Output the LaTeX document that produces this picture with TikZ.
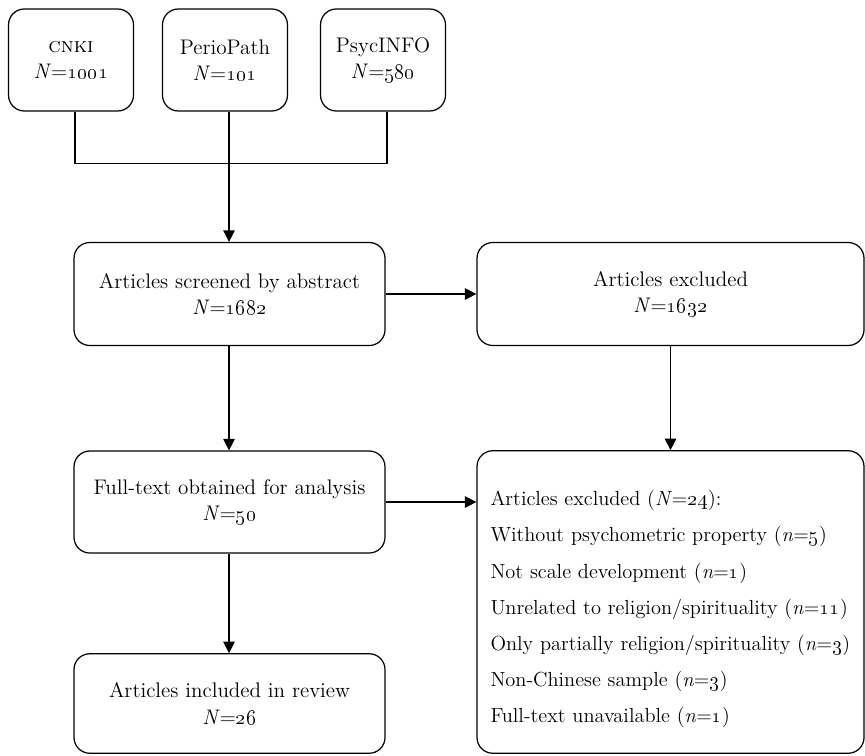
\documentclass[tikz,border=0pt]{standalone}
\usepackage{tikz}
\usetikzlibrary{calc}
\usetikzlibrary{arrows.meta}
\tikzset{box/.style={draw, rounded corners=9pt, align=center, inner sep=0pt, line width=.7pt,
  font=\fontsize{12}{15}\selectfont}}
\newcommand{\nval}[1]{\textit{N}=\oldstylenums{#1}}
\newcommand{\sval}[1]{(\textit{n}=\oldstylenums{#1})}

\begin{document}
\begin{tikzpicture}[>={Triangle[length=6.5pt,width=6.5pt]}, line width=.7pt]
\useasboundingbox (0,0) rectangle (17.3,-15.1);

% databases
\node[box, minimum width=2.5cm, minimum height=2.04cm] (cnki) at (1.42,-1.2) {\textsc{cnki}\\\nval{1001}};
\node[box, minimum width=2.5cm, minimum height=2.04cm] (perio) at (4.50,-1.2) {PerioPath\\\nval{101}};
\node[box, minimum width=2.5cm, minimum height=2.04cm] (psyc) at (7.66,-1.2) {PsycINFO\\\nval{580}};

% screening
\node[box, minimum width=6.22cm, minimum height=2.06cm] (screen) at (4.59,-5.88) {Articles screened by abstract\\\nval{1682}};
\node[box, minimum width=7.74cm, minimum height=2.06cm] (excl) at (13.41,-5.88) {Articles excluded\\\nval{1632}};
\node[box, minimum width=6.22cm, minimum height=2.04cm] (full) at (4.59,-10.04) {Full-text obtained for analysis\\\nval{50}};
\node[box, minimum width=6.22cm, minimum height=1.99cm] (incl) at (4.59,-14.07) {Articles included in review\\\nval{26}};
\node[box, minimum width=7.74cm, minimum height=6.05cm, align=left, text width=7.2cm, inner xsep=.27cm,
  font=\fontsize{11.6}{20.6}\selectfont] (reasons) at (13.41,-12.04) {%
  \rule{0pt}{17pt}Articles excluded (\nval{24}):\\
  Without psychometric property \sval{5}\\
  Not scale development \sval{1}\\
  Unrelated to religion/spirituality \sval{11}\\
  Only partially religion/spirituality \sval{3}\\
  Non-Chinese sample \sval{3}\\
  Full-text unavailable \sval{1}};

% connectors
\coordinate (join) at ($(perio.south)+(.08,-1.04)$);
\draw ([xshift=.08cm]cnki.south) |- (join) -| ([xshift=.08cm]psyc.south);
\draw[->] ([xshift=.08cm]perio.south) -- (join |- screen.north);
\draw[->] (screen.east) -- (excl.west);
\draw[->] (join |- screen.south) -- (join |- full.north);
\draw[->] (excl.south) -- (reasons.north);
\draw[->] (full.east) -- (full.east -| reasons.west);
\draw[->] (join |- full.south) -- (join |- incl.north);
\end{tikzpicture}
\end{document}
